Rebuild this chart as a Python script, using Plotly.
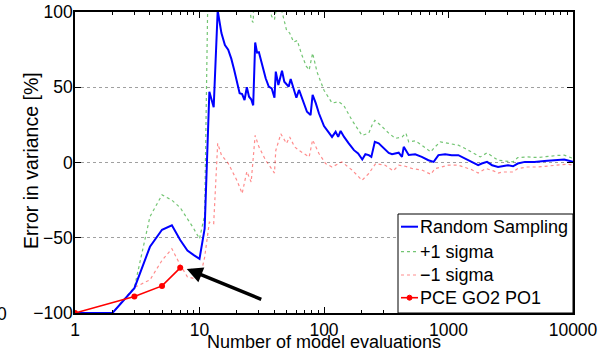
import plotly.graph_objects as go
import numpy as np

# ---------------- data ----------------
rs_n = [1, 2, 3, 4, 5, 6, 7, 8, 9, 10, 11, 12, 13, 14, 15, 16, 17, 18, 19, 20,
        21, 22, 23, 24, 25, 26, 27, 28, 29, 30, 32, 34, 36, 38, 40, 41, 43, 46,
        48, 52, 54, 57, 60, 63, 69, 73, 78, 81, 86, 91, 100, 106, 116, 124, 130,
        136, 145, 158, 174, 188, 203, 215, 229, 240, 256, 275, 302, 331, 352,
        398, 423, 437, 479, 540, 610, 690, 760, 830, 940, 1060, 1200, 1360, 1530,
        1730, 1850, 2040, 2240, 2500, 2700, 3000, 3300, 3600, 4100, 4900, 5900,
        7100, 8500, 10000]
rs_v = [-100, -100, -83.5, -56, -44.7, -41.7, -51.5, -58.5, -61.5, -64, -44, 47,
        36.7, 101, 86, 78, 75, 69, 61.5, 52.7, 46, 45.5, 41.5, 50, 43.7, 42, 38,
        79.7, 73, 73.3, 63.7, 56, 50.4, 49.3, 43, 60.4, 51.5, 61, 53.7, 50.4,
        55.5, 48.2, 43, 48.2, 40, 33.7, 31.5, 44.9, 39.3, 32.7, 24.2, 21.5, 17,
        20.4, 17, 21, 17, 12.7, 8.2, 6, 2, 5.5, 4.9, 3.7, 13.7, 12.7, 9.3, 6.4,
        5.5, 6.5, 3.7, 10.4, 5, 5.5, 3.7, 1.5, 0.4, 4.9, 5.5, 4.9, 4.9, 2.7, 0.4,
        -1.8, -0.7, 0.4, -1.8, -3, -2.5, -1.8, -2.5, -0.7, 0.4, 0.4, 1, 1.5, 2,
        0.4]

up_n = [1, 2, 3, 4, 5, 6, 7, 8, 9, 10, 11, 12, 14, 17, 20, 24, 26, 27, 28, 33,
        38, 40, 43, 46, 48, 50, 53, 57, 61, 66, 72, 76, 81, 88, 100, 116, 131,
        144, 168, 184, 202, 229, 243, 256, 285, 331, 375, 424, 455, 479, 540,
        610, 720, 780, 860, 1000, 1200, 1360, 1530, 1800, 2040, 2300, 2500,
        2840, 3300, 3600, 4300, 5200, 6300, 7500, 8500, 10000]
up_v = [-100, -100, -83, -36, -21.5, -25, -30, -37, -44, -50.7, -35, 180, 260,
        200, 160, 120, 95, 93, 140, 120, 97, 95, 110, 100, 93, 88, 86, 80, 81,
        72, 64, 61.5, 72.7, 60, 48, 39.5, 40.4, 38, 28, 22.8, 18, 19.5, 24.8,
        28, 24.8, 19.5, 16, 17, 19.5, 13.7, 14.4, 11.5, 7, 10.4, 13.7, 12.7,
        11.5, 9.3, 7, 3.7, 6.4, 3.7, 1.5, 1, 0.4, 3.3, 3.7, 3.3, 4.2, 4.7, 4.9,
        2.7]

lo_n = [1, 2, 3, 4, 5, 6, 7, 8, 9, 10, 11, 12, 13, 14, 15, 17, 20, 22, 24, 26,
        28, 30, 34, 40, 41, 45, 50, 53, 58, 63, 76, 81, 91, 103, 116, 139, 168,
        202, 229, 260, 310, 360, 398, 450, 510, 610, 720, 780, 880, 1000, 1200,
        1360, 1530, 1730, 2000, 2300, 2500, 2700, 3300, 3600, 4300, 5200, 6300,
        7500, 9000, 10000]
lo_v = [-100, -100, -83, -78, -65, -57.3, -68, -76, -77, -78, -63, -39.6, -40.6,
        12.7, 5, -0.5, -12, -20.6, -6, -13, 18, 10.4, 1.5, -7, 8, 19, 12.7, 17,
        10.4, 8, 3.7, 15, 6, -0.7, -3, 0.4, -5, -11.8, -7.3, -0.7, -1.8, -5.5,
        -1.8, -2.5, -4, -5, -7.8, -4, -3, -1.8, -1.8, -3.3, -4.7, -7, -4, -5.6,
        -7, -6.3, -6.3, -4, -3, -3, -2.5, -1.8, -1.1, -1.8]

pce_n = [1, 3, 5, 7]
pce_v = [-100, -89, -82, -70]

x_tickvals = [1, 10, 100, 1000, 10000]
x_ticktext = ["1", "10", "100", "1000", "10000"]
y_tickvals = [-100, -50, 0, 50, 100]

legend_labels = ["Random Sampling", "+1 sigma", "\u22121 sigma", "PCE GO2 PO1"]

FONT = "Liberation Sans, Arial, Helvetica, sans-serif"
BLUE = "#0000ff"
RED = "#ff0000"
GREEN_DOT = "rgba(0,150,0,0.55)"
RED_DOT = "rgba(255,0,0,0.45)"

fig = go.Figure()
fig.add_trace(go.Scatter(x=up_n, y=up_v, mode="lines",
                         line=dict(color=GREEN_DOT, width=1.2, dash="dot"),
                         showlegend=False))
fig.add_trace(go.Scatter(x=lo_n, y=lo_v, mode="lines",
                         line=dict(color=RED_DOT, width=1.2, dash="dot"),
                         showlegend=False))
fig.add_trace(go.Scatter(x=rs_n, y=rs_v, mode="lines",
                         line=dict(color=BLUE, width=2),
                         showlegend=False))
fig.add_trace(go.Scatter(x=pce_n, y=pce_v, mode="lines+markers",
                         line=dict(color=RED, width=1.6),
                         marker=dict(color=RED, size=6),
                         showlegend=False))

# Arrow pointing at the last PCE point
fig.add_annotation(x=np.log10(7.9), y=-70.7, xref="x", yref="y", text="",
                   showarrow=True, ax=76, ay=31, arrowcolor="black",
                   arrowwidth=3.5, arrowhead=2, arrowsize=0.9)

# ---------------- manual legend (bottom-right corner) ----------------
L, T = 75, 12
W, H = 498, 301


def px(xp):
    return (xp - L) / W


def py(yp):
    return (T + H - yp) / H


shapes = []
shapes.append(dict(type="rect", xref="paper", yref="paper",
                   x0=px(398), x1=px(573), y0=py(313), y1=py(214),
                   line=dict(color="black", width=1), fillcolor="white",
                   layer="above"))
rows = [226.7, 251.7, 275, 297.7]
styles = [dict(color=BLUE, width=2),
          dict(color=GREEN_DOT, width=1.2, dash="dot"),
          dict(color=RED_DOT, width=1.2, dash="dot"),
          dict(color=RED, width=1.6)]
for r, st, lab in zip(rows, styles, legend_labels):
    shapes.append(dict(type="line", xref="paper", yref="paper",
                       x0=px(401), x1=px(418), y0=py(r), y1=py(r),
                       line=st, layer="above"))
    fig.add_annotation(x=px(418), y=py(r), xref="paper", yref="paper",
                       text=lab, showarrow=False, xanchor="left",
                       yanchor="middle",
                       font=dict(family=FONT, size=18, color="black"))
shapes.append(dict(type="circle", xref="paper", yref="paper",
                   x0=px(407), x1=px(412), y0=py(rows[3] + 2.5),
                   y1=py(rows[3] - 2.5), fillcolor=RED,
                   line=dict(color=RED, width=1), layer="above"))

# axis titles
fig.add_annotation(x=px(324), y=py(342), xref="paper", yref="paper",
                   text="Number of model evaluations", showarrow=False,
                   xanchor="center", yanchor="middle",
                   font=dict(family=FONT, size=18, color="black"))
fig.add_annotation(x=px(31), y=py(161), xref="paper", yref="paper",
                   text="Error in variance [%]", showarrow=False,
                   textangle=-90, xanchor="center", yanchor="middle",
                   font=dict(family=FONT, size=19.5, color="black"))
# stray clipped label at the far left
fig.add_annotation(x=px(2), y=py(314), xref="paper", yref="paper",
                   text="0", showarrow=False, xanchor="center",
                   yanchor="middle",
                   font=dict(family=FONT, size=17.5, color="black"))

fig.update_layout(
    width=609, height=356,
    margin=dict(l=L, r=609 - L - W, t=T, b=356 - T - H, autoexpand=False),
    paper_bgcolor="white", plot_bgcolor="white",
    font=dict(family=FONT, size=17.5, color="black"),
    shapes=shapes,
    showlegend=False,
)
fig.update_xaxes(type="log", range=[0, 4], tickvals=x_tickvals,
                 ticktext=x_ticktext, ticks="inside", ticklen=6,
                 tickcolor="black", showline=True, linecolor="black",
                 linewidth=1.5, mirror="ticks", showgrid=False,
                 zeroline=False, automargin=False,
                 minor=dict(ticks="inside", ticklen=3, dtick="D1",
                            tickcolor="black", showgrid=False),
                 tickfont=dict(family=FONT, size=17.5, color="black"))
fig.update_yaxes(range=[-100, 100], tickvals=y_tickvals, ticks="inside",
                 ticklen=6, tickcolor="black", showline=True,
                 linecolor="black", linewidth=1.5, mirror="ticks",
                 showgrid=True, gridcolor="#a0a0a0", gridwidth=1,
                 griddash="dot", zeroline=False, automargin=False,
                 ticklabelstandoff=-3,
                 tickfont=dict(family=FONT, size=17.5, color="black"))

fig.write_html("out.html")
